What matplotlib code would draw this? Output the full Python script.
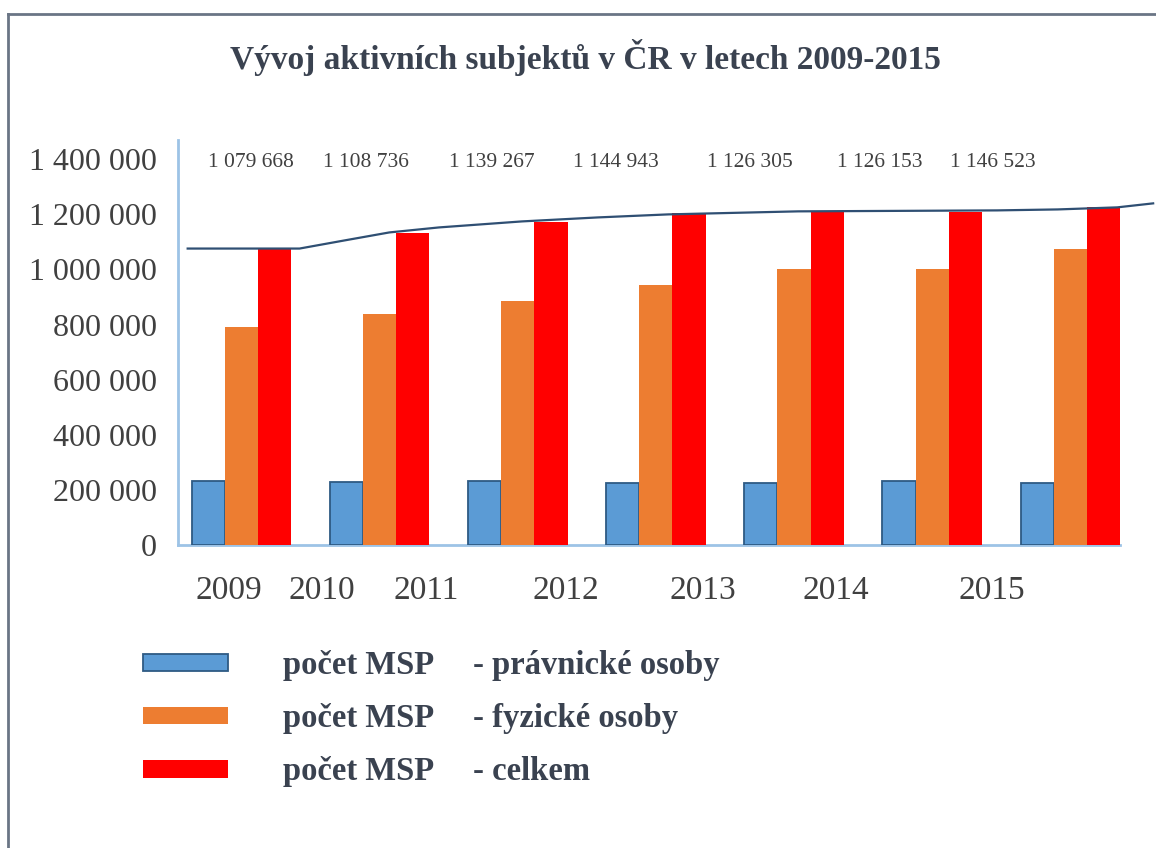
import matplotlib
matplotlib.use('Agg')
import matplotlib.pyplot as plt
from matplotlib.patches import Patch
from matplotlib.ticker import FuncFormatter
from matplotlib.lines import Line2D
import numpy as np

plt.rcParams['font.family'] = ['Liberation Serif', 'DejaVu Serif']

# data
years = ['2009', '2010', '2011', '2012', '2013', '2014', '2015']
pravnicke = [233000, 229000, 233000, 226000, 226000, 233000, 226000]
fyzicke = [793000, 840000, 887000, 945000, 1000000, 1000000, 1073000]
celkem = [1073000, 1134000, 1171000, 1204000, 1207000, 1207000, 1225000]
top_labels = [1079668, 1108736, 1139267, 1144943, 1126305, 1126153, 1146523]
# the smooth line over the bars (x in group units)
trend_x = [-0.39, 0.42, 0.74, 1.07, 1.43, 2.03, 2.58, 3.09, 4.03, 5.47, 5.91, 6.34, 6.60]
trend_y = [1076000, 1076000, 1105000, 1134500, 1152700, 1174500, 1189000, 1200000,
           1211000, 1214500, 1218000, 1225500, 1240000]

# layout (label positions are off-centre in the original)
year_pos = [-0.09, 0.58, 1.34, 2.35, 3.34, 4.30, 5.43]
label_pos = [0.07, 0.90, 1.81, 2.71, 3.68, 4.62, 5.44]

c_blue = '#5b9bd5'
c_orange = '#ed7d31'
c_red = '#ff0000'
txt = '#404040'
axis_c = '#9dc3e6'

fig = plt.figure(figsize=(11.56, 8.48), dpi=100)
ax = fig.add_axes([178/1156, 1-545/848, 942/1156, 405/848])

x = np.arange(len(years))
w = 0.24
ax.bar(x - w, pravnicke, w, color=c_blue, edgecolor='#2e5a84', linewidth=1.3, zorder=3)
ax.bar(x, fyzicke, w, color=c_orange, zorder=3)
ax.bar(x + w, celkem, w, color=c_red, zorder=3)

ax.plot(trend_x, trend_y, color='#2f4f73', lw=1.6, zorder=4, clip_on=False)

fmt = lambda v: '{:,}'.format(int(v)).replace(',', ' ')
for p, v in zip(label_pos, top_labels):
    ax.text(p, 1389000, fmt(v), ha='center', va='center', fontsize=15.5, color=txt)

ax.set_xlim(-0.46, 6.36)
ax.set_ylim(0, 1470000)
ax.set_yticks(range(0, 1400001, 200000))
ax.yaxis.set_major_formatter(FuncFormatter(lambda v, p: fmt(v)))
ax.set_xticks(year_pos)
ax.set_xticklabels(years)
ax.tick_params(axis='y', length=0, pad=15, labelsize=23, labelcolor=txt)
ax.tick_params(axis='x', length=0, pad=22, labelsize=24, labelcolor=txt)
for s in ['top', 'right']:
    ax.spines[s].set_visible(False)
for s in ['left', 'bottom']:
    ax.spines[s].set_color(axis_c)
    ax.spines[s].set_linewidth(2)

fig.text(585/1156, 1-57/848, 'Vývoj aktivních subjektů v ČR v letech 2009-2015',
         ha='center', va='center', fontsize=24, fontweight='bold', color='#3a4250')

handles = [Patch(facecolor=c_blue, edgecolor='#2e5a84', linewidth=1.3),
           Patch(facecolor=c_orange), Patch(facecolor=c_red)]
labels = ['počet MSP     - právnické osoby', 'počet MSP     - fyzické osoby',
          'počet MSP     - celkem']
fig.legend(handles, labels, loc='upper left', bbox_to_anchor=(143/1156, 1-650/848),
           frameon=False, borderpad=0, borderaxespad=0, handlelength=2.6,
           handleheight=0.45, handletextpad=1.7, labelspacing=0.68,
           prop={'size': 23.5, 'weight': 'bold'}, labelcolor='#3a4250')

# border round the chart
fig.add_artist(Line2D([8/1156, 8/1156], [0, 1-14/848], color='#6a7585', lw=2))
fig.add_artist(Line2D([8/1156, 1], [1-14/848, 1-14/848], color='#6a7585', lw=2))

fig.savefig('out.png', dpi=100)
